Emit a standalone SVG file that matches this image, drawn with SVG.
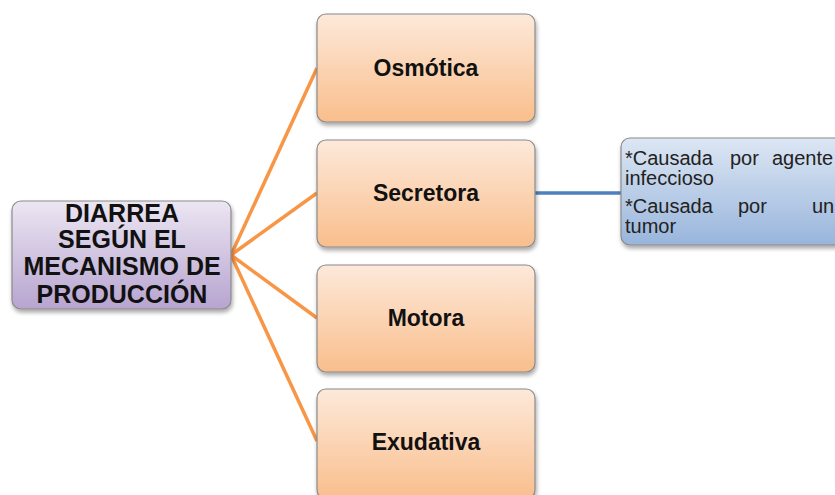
<svg xmlns="http://www.w3.org/2000/svg" width="835" height="495" viewBox="0 0 835 495">
  <defs>
    <linearGradient id="gOrange" x1="0" y1="0" x2="0" y2="1">
      <stop offset="0" stop-color="#fde9da"/>
      <stop offset="1" stop-color="#f9be8c"/>
    </linearGradient>
    <linearGradient id="gPurple" x1="0" y1="0" x2="0" y2="1">
      <stop offset="0" stop-color="#ece6f2"/>
      <stop offset="1" stop-color="#b7a4d0"/>
    </linearGradient>
    <linearGradient id="gBlue" x1="0" y1="0" x2="0" y2="1">
      <stop offset="0" stop-color="#dde7f4"/>
      <stop offset="1" stop-color="#98b5dc"/>
    </linearGradient>
    <filter id="shadow" x="-10%" y="-10%" width="130%" height="130%">
      <feGaussianBlur in="SourceAlpha" stdDeviation="2"/>
      <feOffset dx="1" dy="3"/>
      <feComponentTransfer><feFuncA type="linear" slope="0.35"/></feComponentTransfer>
      <feMerge><feMergeNode/><feMergeNode in="SourceGraphic"/></feMerge>
    </filter>
  </defs>
  <style>
    .box { stroke: #8a8a8a; stroke-width: 1.2; filter: url(#shadow); }
    .orange { fill: url(#gOrange); }
    .purple { fill: url(#gPurple); }
    .blue { fill: url(#gBlue); }
    .lbl { font-family: "Liberation Sans", Arial, sans-serif; font-weight: bold; font-size: 23px; fill: #111; text-anchor: middle; }
    .root { font-size: 25px; }
    .note { font-family: "Liberation Sans", Arial, sans-serif; font-size: 20px; fill: #222; }
    .conn { fill: none; stroke: #f79646; stroke-width: 3.5; }
    .connBlue { fill: none; stroke: #4f81bd; stroke-width: 3.5; }
  </style>
  <rect width="835" height="495" fill="#ffffff"/>

  <g id="connectors">
    <path class="conn" d="M231,255 L317,68"/>
    <path class="conn" d="M231,255 L317,193"/>
    <path class="conn" d="M231,255 L317,318"/>
    <path class="conn" d="M231,255 L317,441"/>
    <path class="connBlue" d="M535,193 L621,193"/>
  </g>

  <g id="root">
    <rect class="box purple" x="12" y="201" width="219" height="108" rx="9"/>
    <text class="lbl root" x="122" y="222">DIARREA</text>
    <text class="lbl root" x="122" y="248">SEGÚN EL</text>
    <text class="lbl root" x="122" y="275">MECANISMO DE</text>
    <text class="lbl root" x="122" y="303">PRODUCCIÓN</text>
  </g>

  <g id="osmotica">
    <rect class="box orange" x="317" y="14" width="218" height="108" rx="9"/>
    <text class="lbl" x="426" y="76">Osmótica</text>
  </g>

  <g id="secretora">
    <rect class="box orange" x="317" y="140" width="218" height="107" rx="9"/>
    <text class="lbl" x="426" y="201">Secretora</text>
  </g>

  <g id="motora">
    <rect class="box orange" x="317" y="265" width="218" height="107" rx="9"/>
    <text class="lbl" x="426" y="326">Motora</text>
  </g>

  <g id="exudativa">
    <rect class="box orange" x="317" y="389" width="218" height="110" rx="9"/>
    <text class="lbl" x="426" y="450">Exudativa</text>
  </g>

  <g id="causas">
    <rect class="box blue" x="621" y="138" width="225" height="107" rx="9"/>
    <text class="note" y="165"><tspan x="625">*Causada</tspan><tspan x="730">por</tspan><tspan x="772">agente</tspan></text>
    <text class="note" x="625" y="185">infeccioso</text>
    <text class="note" y="213"><tspan x="625">*Causada</tspan><tspan x="738">por</tspan><tspan x="812">un</tspan></text>
    <text class="note" x="625" y="233">tumor</text>
  </g>
</svg>
